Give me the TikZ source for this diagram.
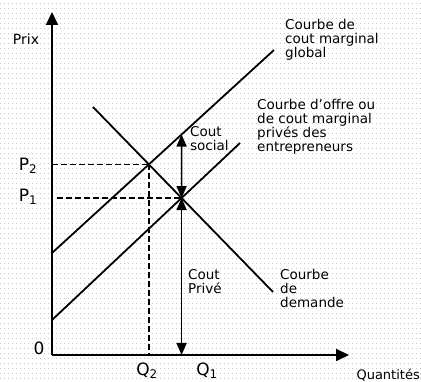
\documentclass[tikz,border=0pt]{standalone}
\usepackage{fontspec}
\setmainfont{DejaVu Sans}
\usetikzlibrary{arrows.meta,calc}
\begin{document}
\begin{tikzpicture}[x=1pt,y=-1pt,
  curve/.style={line width=1.8pt},
  axis/.style={line width=1.8pt,-{Triangle[length=13pt,width=12pt]}},
  dbl/.style={line width=1.6pt,{Triangle[length=12pt,width=10pt]}-{Triangle[length=12pt,width=10pt]}},
  guide/.style={line width=1.6pt,dash pattern=on 6pt off 3pt},
  lbl/.style={inner sep=0pt,anchor=north west,align=left,font=\fontsize{13.5}{14}\selectfont},
  axlbl/.style={inner sep=0pt,font=\fontsize{17}{17}\selectfont},
  gridline/.style={gray!45,line width=0.7pt,dash pattern=on 0.7pt off 3.3pt}]
\useasboundingbox (0,0) rectangle (421,382);
% dotted graph-paper background
\foreach \yy in {3,8,...,380} {\draw[gridline] (0,\yy) -- (421,\yy);}
% points
\coordinate (O) at (52,355);
\coordinate (Ytip) at (52,12);
\coordinate (Xtip) at (349,355);
\coordinate (G1) at (52,253);
\coordinate (G2) at (274,50);
\coordinate (S1) at (52,320);
\coordinate (S2) at (240,143);
\coordinate (D1) at (93,107);
\coordinate (D2) at (273,292);
\coordinate (E2) at (intersection of D1--D2 and G1--G2);
\coordinate (E1) at (intersection of D1--D2 and S1--S2);
\coordinate (E1up) at ($(E1)+(0,-100)$);
\coordinate (T) at (intersection of E1--E1up and G1--G2);
\coordinate (Q1) at (E1 |- O);
\coordinate (Q2) at (E2 |- O);
\coordinate (P2) at (E2 -| O);
\coordinate (P1) at ($(E1 -| O)+(5,0)$);
% axes
\draw[axis] (O) -- (Ytip);
\draw[axis] (O) -- (Xtip);
% curves
\draw[curve] (G1) -- (G2);
\draw[curve] (S1) -- (S2);
\draw[curve] (D1) -- (D2);
% guides
\draw[guide] (P2) -- (E2);
\draw[guide] (P1) -- (E1);
\draw[guide] (E2) -- (Q2);
% cost arrows
\draw[dbl] (E1) -- (T);
\draw[dbl] (E1) -- (Q1);
% labels
\node[inner sep=0pt,font=\fontsize{14}{14}\selectfont] (prix) at (26,39) {Prix};
\node[axlbl] (zero) at (39,348) {0};
\node[axlbl] (p2) at (28,166) {P\textsubscript{2}};
\node[axlbl] (p1) at (28,197) {P\textsubscript{1}};
\node[axlbl] (q2) at (147,371) {Q\textsubscript{2}};
\node[axlbl] (q1) at (207,371) {Q\textsubscript{1}};
\node[inner sep=0pt,anchor=east,font=\fontsize{13}{14}\selectfont] (quant) at (420,375) {Quantités};
\node[lbl] (glob) at (285,19) {Courbe de\\cout marginal\\global};
\node[lbl] (priv) at (257,99) {Courbe d'offre ou\\de cout marginal\\privés des\\entrepreneurs};
\node[lbl] (soc) at (190,126) {Cout\\social};
\node[lbl] (cpr) at (188,269) {Cout\\Privé};
\node[lbl] (dem) at (280,269) {Courbe\\de\\demande};
\end{tikzpicture}
\end{document}
